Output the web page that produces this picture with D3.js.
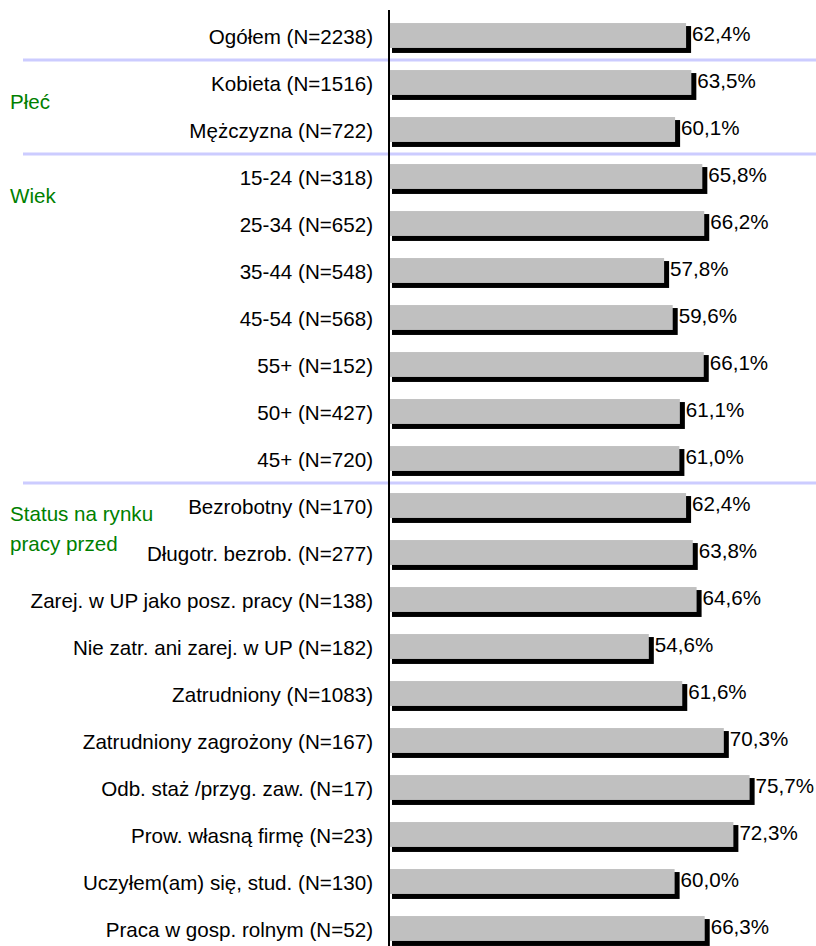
<!DOCTYPE html>
<html>
<head>
<meta charset="utf-8">
<script src="https://d3js.org/d3.v7.min.js"></script>
<style>
  body { margin: 0; background: #fff; }
  text { font-family: "Liberation Sans", Arial, sans-serif; }
</style>
</head>
<body>
<svg id="chart" width="816" height="946"></svg>
<script>
// Categories (row labels) and values in %
const categories = [
  "Ogółem (N=2238)",
  "Kobieta (N=1516)",
  "Mężczyzna (N=722)",
  "15-24 (N=318)",
  "25-34 (N=652)",
  "35-44 (N=548)",
  "45-54 (N=568)",
  "55+ (N=152)",
  "50+ (N=427)",
  "45+ (N=720)",
  "Bezrobotny (N=170)",
  "Długotr. bezrob. (N=277)",
  "Zarej. w UP jako posz. pracy (N=138)",
  "Nie zatr. ani zarej. w UP (N=182)",
  "Zatrudniony (N=1083)",
  "Zatrudniony zagrożony (N=167)",
  "Odb. staż /przyg. zaw. (N=17)",
  "Prow. własną firmę (N=23)",
  "Uczyłem(am) się, stud. (N=130)",
  "Praca w gosp. rolnym (N=52)"
];
const values = [62.4, 63.5, 60.1, 65.8, 66.2, 57.8, 59.6, 66.1, 61.1, 61.0,
  62.4, 63.8, 64.6, 54.6, 61.6, 70.3, 75.7, 72.3, 60.0, 66.3];

// Group headings: text lines and the row they start at
const groups = [
  { lines: ["Płeć"], row: 1 },
  { lines: ["Wiek"], row: 3 },
  { lines: ["Status na rynku", "pracy przed"], row: 10 }
];
// separator lines go above these rows
const separators = [1, 3, 10];

const svg = d3.select("#chart");
const axisX = 389;
const fs = 20.6;

// x scale: percent -> pixel
const x = d3.scaleLinear().domain([0, 100]).range([axisX, axisX + 477.7]);

// y band scale
const y = d3.scaleBand()
  .domain(categories)
  .range([12, 952])
  .paddingInner(0.47)
  .paddingOuter(0.235);

const step = y.step();
const bw = y.bandwidth();

// separators
separators.forEach(r => {
  const yy = y(categories[r]) - (step - bw) / 2 + 1;
  svg.append("line")
    .attr("x1", 23).attr("x2", 816)
    .attr("y1", yy).attr("y2", yy)
    .attr("stroke", "#ccccff")
    .attr("stroke-width", 3);
});

const data = categories.map((c, i) => ({ cat: c, val: values[i] }));

const rows = svg.selectAll("g.row").data(data).join("g").attr("class", "row");

// shadow
rows.append("rect")
  .attr("x", x(0) + 3)
  .attr("y", d => y(d.cat) + 3)
  .attr("width", d => x(d.val) - x(0) + 1)
  .attr("height", bw + 2)
  .attr("fill", "#000");

// bar
rows.append("rect")
  .attr("x", x(0) + 1)
  .attr("y", d => y(d.cat))
  .attr("width", d => x(d.val) - x(0) - 2)
  .attr("height", bw)
  .attr("fill", "#c0c0c0");

// value labels
rows.append("text")
  .attr("x", d => x(d.val) + 5)
  .attr("y", d => y(d.cat) + bw / 2 - 2)
  .attr("dy", "0.35em")
  .attr("font-size", fs)
  .attr("fill", "#000")
  .text(d => d.val.toFixed(1).replace(".", ",") + "%");

// category labels
rows.append("text")
  .attr("x", 373)
  .attr("y", d => y(d.cat) + bw / 2 + 1)
  .attr("dy", "0.35em")
  .attr("text-anchor", "end")
  .attr("font-size", fs)
  .attr("fill", "#000")
  .text(d => d.cat);

// axis line
svg.append("line")
  .attr("x1", axisX).attr("x2", axisX)
  .attr("y1", 10).attr("y2", 946)
  .attr("stroke", "#000")
  .attr("stroke-width", 2);

// group headings
groups.forEach(g => {
  const off = g.lines.length > 1 ? 8 : 19;
  const base = y(categories[g.row]) + bw / 2 + off;
  g.lines.forEach((ln, j) => {
    svg.append("text")
      .attr("x", 10)
      .attr("y", base + j * 30)
      .attr("dy", "0.35em")
      .attr("font-size", fs)
      .attr("fill", "#008000")
      .text(ln);
  });
});
</script>
</body>
</html>
